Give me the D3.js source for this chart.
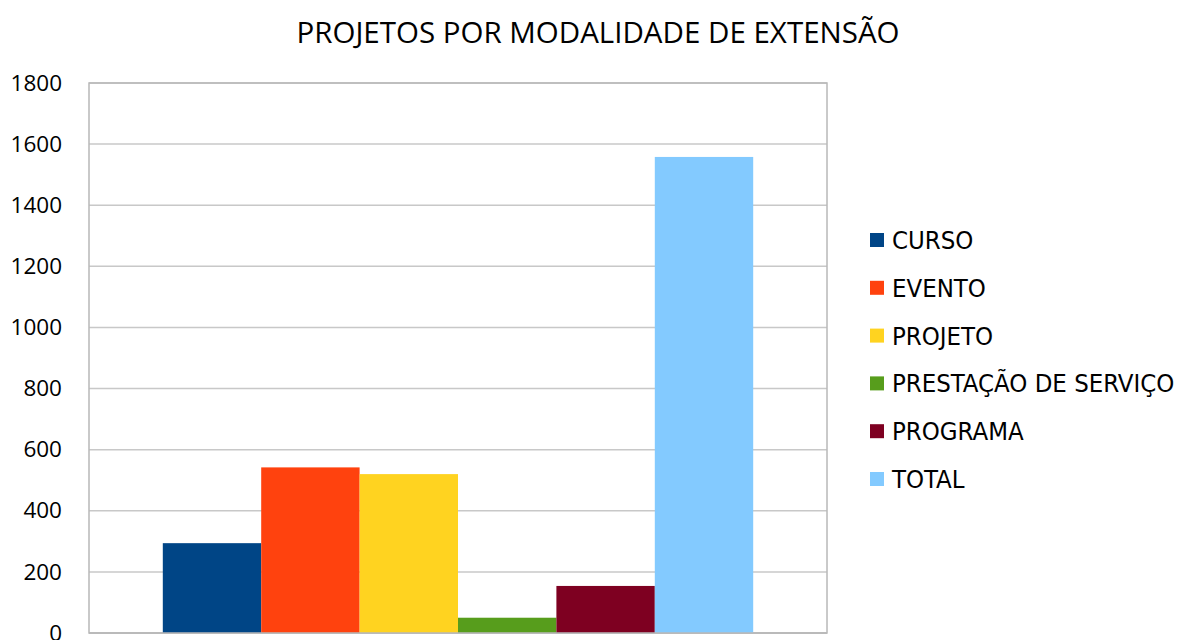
<!DOCTYPE html>
<html>
<head>
<meta charset="utf-8">
<script src="https://cdn.jsdelivr.net/npm/d3@7"></script>
<style>
  body { margin: 0; background: #fff; }
</style>
</head>
<body>
<div id="chart"></div>
<script>
// chart data
const categories = ["CURSO", "EVENTO", "PROJETO", "PRESTAÇÃO DE SERVIÇO", "PROGRAMA", "TOTAL"]
const values = [294, 542, 520, 50, 154, 1558]
const colours = ["#004586", "#ff420e", "#ffd320", "#579d1c", "#7e0021", "#83caff"]
const yTicks = [0, 200, 400, 600, 800, 1000, 1200, 1400, 1600, 1800]
const title = "PROJETOS POR MODALIDADE DE EXTENSÃO"

const width = 1181
const height = 640
const plot = { left: 89, top: 83, right: 827, bottom: 633 }

const svg = d3.select("#chart")
    .append("svg")
    .attr("width", width)
    .attr("height", height)

svg.append("text")
    .attr("x", 598)
    .attr("y", 43)
    .attr("text-anchor", "middle")
    .style("font-family", "'Open Sans', sans-serif")
    .style("font-size", "29.5px")
    .style("fill", "#000")
    .text(title)

const y = d3.scaleLinear()
    .domain([0, 1800])
    .range([plot.bottom, plot.top])

const x = d3.scaleBand()
    .domain(categories)
    .range([plot.left, plot.right])
    .paddingInner(0)
    .paddingOuter(0.75)

// gridlines
svg.append("g")
    .selectAll("line")
    .data(yTicks)
    .join("line")
    .attr("x1", plot.left)
    .attr("x2", plot.right)
    .attr("y1", d => y(d))
    .attr("y2", d => y(d))
    .attr("stroke", "#c8c8c8")
    .attr("stroke-width", 1.5)

// plot frame
svg.append("rect")
    .attr("x", plot.left)
    .attr("y", plot.top)
    .attr("width", plot.right - plot.left)
    .attr("height", plot.bottom - plot.top)
    .attr("fill", "none")
    .attr("stroke", "#b8b8b8")
    .attr("stroke-width", 1.5)

// y axis labels
const yAxis = d3.axisLeft(y).tickValues(yTicks).tickFormat(d3.format("d")).tickSize(0).tickPadding(27)
const yg = svg.append("g")
    .attr("transform", "translate(" + plot.left + ",0)")
    .call(yAxis)
yg.select(".domain").remove()
yg.selectAll("text")
    .style("font-family", "'Open Sans', sans-serif")
    .style("font-size", "22.5px")
    .style("fill", "#000")

// bars
svg.append("g")
    .selectAll("rect")
    .data(categories)
    .join("rect")
    .attr("x", d => x(d))
    .attr("width", x.bandwidth())
    .attr("y", (d, i) => y(values[i]))
    .attr("height", (d, i) => y(0) - y(values[i]))
    .attr("fill", (d, i) => colours[i])

// bottom axis line over bars
svg.append("line")
    .attr("x1", plot.left)
    .attr("x2", plot.right)
    .attr("y1", plot.bottom)
    .attr("y2", plot.bottom)
    .attr("stroke", "#b8b8b8")
    .attr("stroke-width", 1.5)

// legend
const legend = svg.append("g")
    .selectAll("g")
    .data(categories)
    .join("g")
    .attr("transform", (d, i) => "translate(870," + (240 + i * 47.8) + ")")

legend.append("rect")
    .attr("x", 0)
    .attr("y", -7)
    .attr("width", 14)
    .attr("height", 14)
    .attr("fill", (d, i) => colours[i])

legend.append("text")
    .attr("x", 22)
    .attr("y", 0)
    .attr("dy", "0.35em")
    .style("font-family", "'DejaVu Sans Condensed', 'DejaVu Sans', sans-serif")
    .style("font-size", "25.5px")
    .style("fill", "#000")
    .text(d => d)
</script>
</body>
</html>
